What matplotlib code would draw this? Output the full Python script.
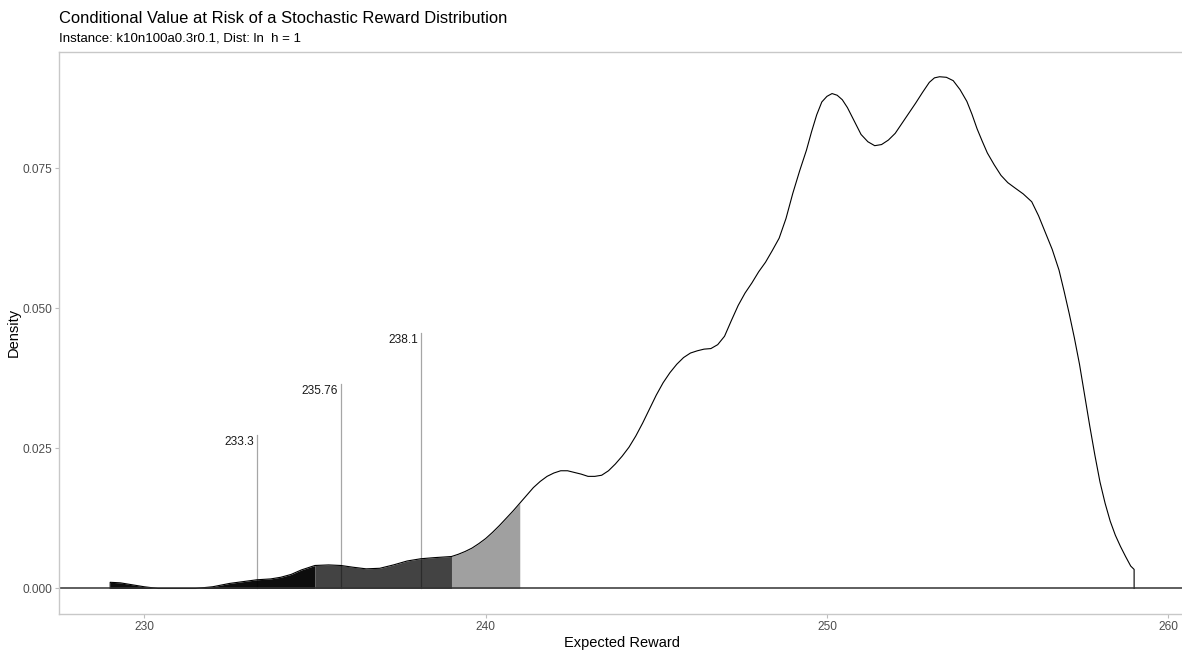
import matplotlib
matplotlib.use("Agg")
import matplotlib.pyplot as plt
import numpy as np

plt.rcParams['font.family'] = ['Liberation Sans', 'DejaVu Sans']

# density estimate of the reward (x = expected reward, y = density)
reward = [229.0, 229.3, 229.6, 230.0, 230.4, 231.0, 231.5, 232.0, 232.5, 233.0,
          233.3, 233.7, 234.0, 234.3, 234.6, 235.0, 235.4, 235.76, 236.1, 236.5,
          236.9, 237.3, 237.7, 238.1, 238.5, 239.0, 239.2, 239.4, 239.6, 239.8,
          240.0, 240.2, 240.4, 240.6, 240.8, 241.0, 241.2, 241.4, 241.6, 241.8,
          242.0, 242.2, 242.4, 242.6, 242.8, 243.0, 243.2, 243.4, 243.6, 243.8,
          244.0, 244.2, 244.4, 244.6, 244.8, 245.0, 245.2, 245.4, 245.6, 245.8,
          246.0, 246.2, 246.4, 246.6, 246.8, 247.0, 247.2, 247.4, 247.6, 247.8,
          248.0, 248.2, 248.4, 248.6, 248.8, 249.0, 249.2, 249.4, 249.55, 249.7,
          249.85, 250.0, 250.15, 250.3, 250.45, 250.6, 250.8, 251.0, 251.2, 251.4,
          251.6, 251.8, 252.0, 252.2, 252.4, 252.6, 252.8, 253.0, 253.15, 253.3,
          253.5, 253.7, 253.9, 254.1, 254.25, 254.4, 254.55, 254.7, 254.9, 255.1,
          255.3, 255.5, 255.75, 256.0, 256.2, 256.4, 256.6, 256.8, 256.95, 257.1,
          257.25, 257.4, 257.55, 257.7, 257.85, 258.0, 258.15, 258.3, 258.45, 258.6,
          258.75, 258.9, 259.0]
density = [0.0011, 0.0010, 0.0007, 0.0003, 0.0000, 0.0000, 0.0000, 0.0003, 0.0009, 0.0013,
           0.00155, 0.0017, 0.0020, 0.0025, 0.0033, 0.0041, 0.0042, 0.0041, 0.0038, 0.0035,
           0.0036, 0.0042, 0.0049, 0.0053, 0.0055, 0.0057, 0.0061, 0.0066, 0.0072, 0.0080,
           0.0089, 0.0100, 0.0112, 0.0125, 0.0138, 0.0152, 0.0166, 0.0180, 0.0191, 0.0200,
           0.0206, 0.0210, 0.0210, 0.0207, 0.0204, 0.0200, 0.0200, 0.0202, 0.0210, 0.0222,
           0.0236, 0.0252, 0.0272, 0.0295, 0.0320, 0.0345, 0.0367, 0.0385, 0.0400, 0.0412,
           0.0420, 0.0424, 0.0427, 0.0428, 0.0435, 0.0450, 0.0478, 0.0505, 0.0527, 0.0545,
           0.0565, 0.0582, 0.0603, 0.0625, 0.0660, 0.0705, 0.0745, 0.0782, 0.0815, 0.0845,
           0.0868, 0.0878, 0.0883, 0.0880, 0.0872, 0.0858, 0.0834, 0.0810, 0.0797, 0.0790,
           0.0792, 0.0800, 0.0812, 0.0830, 0.0848, 0.0866, 0.0885, 0.0903, 0.0911, 0.0913,
           0.0912, 0.0906, 0.0890, 0.0869, 0.0846, 0.0820, 0.0798, 0.0777, 0.0756, 0.0737,
           0.0724, 0.0715, 0.0704, 0.0690, 0.0665, 0.0635, 0.0605, 0.0568, 0.0530, 0.0490,
           0.0447, 0.0400, 0.0345, 0.0290, 0.0238, 0.0190, 0.0152, 0.0120, 0.0095, 0.0075,
           0.0057, 0.0040, 0.0034]

# shaded tail bands (lower, upper, fill)
band_lo = [229.0, 235.0, 239.0]
band_hi = [235.0, 239.0, 241.0]
band_col = ['#0d0d0d', '#434343', '#a0a0a0']

# CVaR markers: position, label, height as share of the density peak
cvar_x = [233.3, 235.76, 238.1]
cvar_lab = ['233.3', '235.76', '238.1']
cvar_frac = [0.3, 0.4, 0.5]

x = np.array(reward)
y = np.array(density)

fig = plt.figure(figsize=(11.82, 6.53), dpi=100)
ax = fig.add_axes([0.0499, 0.0597, 0.9529, 0.8614])

for lo, hi, col in zip(band_lo, band_hi, band_col):
    m = (x >= lo) & (x <= hi)
    ax.fill_between(x[m], 0, y[m], color=col, lw=0)

ax.plot(np.r_[x[0], x, x[-1]], np.r_[0, y, 0], color='black', lw=0.8)

peak = y.max()
for cx, lab, fr in zip(cvar_x, cvar_lab, cvar_frac):
    h = peak * fr
    ax.plot([cx, cx], [0, h], color='black', alpha=0.35, lw=0.9)
    ax.annotate(lab, (cx, h), xytext=(-2, -1), textcoords='offset points',
                ha='right', va='top', fontsize=8.6, color='#1a1a1a')

ax.axhline(0, color='#333333', lw=1.1)

ax.set_xlim(227.5, 260.5)
ax.set_ylim(-0.00456, 0.0958)
ax.set_xticks([230, 240, 250, 260])
ax.set_yticks([0.0, 0.025, 0.05, 0.075])
ax.set_yticklabels(['0.000', '0.025', '0.050', '0.075'])
ax.tick_params(colors='#bdbdbd', labelcolor='#4d4d4d', labelsize=8.6, length=3, width=0.8, pad=2)
for s in ax.spines.values():
    s.set_color('#c8c8c8')
    s.set_linewidth(1.0)

ax.set_xlabel('Expected Reward', fontsize=10.5, color='black', labelpad=2)
ax.set_ylabel('Density', fontsize=10.5, color='black', labelpad=1)

fig.text(0.0499, 0.972, 'Conditional Value at Risk of a Stochastic Reward Distribution',
         fontsize=11.9, ha='left', va='center')
fig.text(0.0499, 0.941, 'Instance: k10n100a0.3r0.1, Dist: ln  h = 1',
         fontsize=9.5, ha='left', va='center')

fig.savefig('out.png', dpi=100)
